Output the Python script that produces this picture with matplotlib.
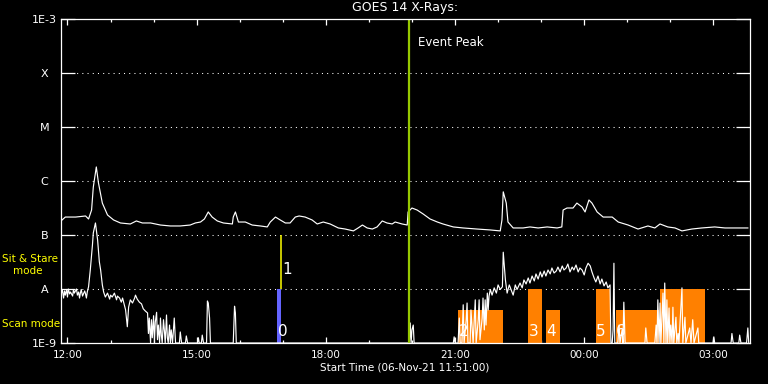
import matplotlib
matplotlib.use('Agg')
import matplotlib.pyplot as plt
from matplotlib.ticker import FixedLocator, NullLocator
from matplotlib.transforms import blended_transform_factory

# x = hours after start time 06-Nov-21 11:51:00
tick_hours = [0.15, 3.15, 6.15, 9.15, 12.15, 15.15]
tick_labels = ['12:00', '15:00', '18:00', '21:00', '00:00', '03:00']
minor_hours = [0.15 + h for h in range(16)]

flux_levels = [1e-9, 1e-8, 1e-7, 1e-6, 1e-5, 1e-4, 1e-3]
flux_labels = ['1E-9', 'A', 'B', 'C', 'M', 'X', '1E-3']
grid_levels = [1e-8, 1e-7, 1e-6, 1e-5, 1e-4]

# GOES 1-8 A channel (hours, W/m^2)
goes_long = [
    (0.00, 1.82e-7), (0.10, 2.15e-7), (0.34, 2.15e-7), (0.57, 2.25e-7), (0.64, 1.98e-7),
    (0.71, 2.9e-7), (0.75, 7.7e-7), (0.82, 1.82e-6), (0.87, 9.2e-7), (0.96, 3.9e-7),
    (1.08, 2.35e-7), (1.22, 1.9e-7), (1.38, 1.67e-7), (1.61, 1.6e-7), (1.75, 1.82e-7),
    (1.89, 1.67e-7), (2.08, 1.67e-7), (2.31, 1.53e-7), (2.54, 1.47e-7), (2.77, 1.47e-7),
    (3.00, 1.53e-7), (3.12, 1.67e-7), (3.24, 1.74e-7), (3.33, 1.98e-7), (3.42, 2.67e-7),
    (3.51, 2.15e-7), (3.63, 1.82e-7), (3.77, 1.67e-7), (3.98, 1.6e-7), (4.00, 2.15e-7),
    (4.05, 2.67e-7), (4.12, 1.74e-7), (4.28, 1.74e-7), (4.44, 1.53e-7), (4.63, 1.47e-7),
    (4.79, 1.41e-7), (4.86, 1.74e-7), (4.98, 2.15e-7), (5.09, 1.9e-7), (5.21, 1.67e-7),
    (5.32, 1.67e-7), (5.44, 2.15e-7), (5.53, 2.25e-7), (5.67, 2.15e-7), (5.83, 1.9e-7),
    (5.95, 1.6e-7), (6.09, 1.74e-7), (6.25, 1.6e-7), (6.44, 1.35e-7), (6.60, 1.29e-7),
    (6.79, 1.19e-7), (6.90, 1.35e-7), (7.00, 1.53e-7), (7.11, 1.35e-7), (7.23, 1.29e-7),
    (7.34, 1.41e-7), (7.46, 1.82e-7), (7.57, 1.67e-7), (7.69, 1.6e-7), (7.76, 1.74e-7),
    (7.92, 1.6e-7), (8.04, 1.53e-7), (8.06, 2.67e-7), (8.15, 3.16e-7), (8.27, 2.9e-7),
    (8.41, 2.45e-7), (8.57, 1.98e-7), (8.74, 1.74e-7), (8.87, 1.6e-7), (9.11, 1.41e-7),
    (9.34, 1.35e-7), (9.66, 1.29e-7), (9.97, 1.24e-7), (10.20, 1.19e-7), (10.24, 1.9e-7),
    (10.27, 6.3e-7), (10.34, 3.9e-7), (10.38, 1.74e-7), (10.50, 1.35e-7), (10.73, 1.35e-7),
    (10.89, 1.41e-7), (11.08, 1.35e-7), (11.29, 1.41e-7), (11.52, 1.35e-7), (11.63, 1.41e-7),
    (11.66, 2.9e-7), (11.75, 3.16e-7), (11.89, 3.16e-7), (11.98, 3.9e-7), (12.10, 3.3e-7),
    (12.17, 2.67e-7), (12.26, 4.45e-7), (12.33, 3.9e-7), (12.45, 2.67e-7), (12.59, 2.15e-7),
    (12.80, 2.15e-7), (12.94, 1.74e-7), (13.17, 1.53e-7), (13.40, 1.29e-7), (13.63, 1.47e-7),
    (13.79, 1.35e-7), (13.91, 1.6e-7), (14.09, 1.41e-7), (14.26, 1.35e-7), (14.42, 1.19e-7),
    (14.65, 1.29e-7), (14.88, 1.35e-7), (15.18, 1.41e-7), (15.42, 1.35e-7), (15.65, 1.35e-7),
    (15.95, 1.35e-7),
]

# GOES 0.5-4 A channel, 1e-9 = dropout at the floor
goes_short = [
    (0.01, 8.4e-9), (0.03, 9.8e-9), (0.06, 6.8e-9), (0.08, 9.2e-9), (0.10, 7.7e-9),
    (0.13, 9.8e-9), (0.15, 7.1e-9), (0.17, 1.0e-8), (0.20, 8.1e-9), (0.22, 8.8e-9),
    (0.27, 7.4e-9), (0.29, 9.8e-9), (0.31, 8.4e-9), (0.36, 1.0e-8), (0.38, 7.7e-9),
    (0.41, 8.8e-9), (0.43, 6.8e-9), (0.45, 8.4e-9), (0.47, 9.8e-9), (0.50, 7.4e-9),
    (0.55, 9.2e-9), (0.57, 8.1e-9), (0.59, 6.8e-9), (0.61, 8.8e-9), (0.64, 1.1e-8),
    (0.68, 2.25e-8), (0.73, 6.5e-8), (0.75, 1.09e-7), (0.80, 1.67e-7), (0.85, 8.1e-8),
    (0.89, 3.2e-8), (0.92, 2.25e-8), (0.96, 1.19e-8), (0.99, 8.8e-9), (1.03, 7.1e-9),
    (1.08, 8.4e-9), (1.13, 6.5e-9), (1.15, 7.7e-9), (1.19, 7.1e-9), (1.24, 8.4e-9),
    (1.29, 6.3e-9), (1.31, 7.4e-9), (1.36, 6.8e-9), (1.40, 5.7e-9), (1.43, 6.8e-9),
    (1.47, 5.1e-9), (1.50, 4.1e-9), (1.54, 2.0e-9), (1.57, 4.6e-9), (1.61, 6.3e-9),
    (1.66, 5.5e-9), (1.71, 6.8e-9), (1.73, 7.7e-9), (1.77, 6.5e-9), (1.82, 5.7e-9),
    (1.87, 5.3e-9), (1.91, 4.3e-9), (1.96, 3.9e-9), (2.01, 3.6e-9), (2.03, 1.5e-9),
    (2.05, 2.9e-9), (2.08, 1.0e-9), (2.10, 2.7e-9), (2.12, 1.25e-9), (2.15, 3.2e-9),
    (2.17, 1.0e-9), (2.19, 2.45e-9), (2.22, 3.7e-9), (2.24, 1.15e-9), (2.26, 2.15e-9),
    (2.29, 1.0e-9), (2.31, 2.9e-9), (2.33, 1.4e-9), (2.35, 1.0e-9), (2.38, 2.7e-9),
    (2.40, 1.75e-9), (2.42, 1.0e-9), (2.45, 3.3e-9), (2.47, 1.25e-9), (2.49, 1.0e-9),
    (2.52, 2.15e-9), (2.54, 1.0e-9), (2.56, 1.75e-9), (2.59, 1.0e-9), (2.63, 2.9e-9),
    (2.66, 1.0e-9), (2.75, 1.0e-9), (2.77, 1.6e-9), (2.80, 1.0e-9), (2.89, 1.0e-9),
    (2.91, 1.35e-9), (2.94, 1.0e-9), (3.17, 1.0e-9), (3.19, 1.25e-9), (3.21, 1.0e-9),
    (3.26, 1.0e-9), (3.28, 1.4e-9), (3.31, 1.0e-9), (3.38, 1.0e-9), (3.40, 6.0e-9),
    (3.42, 5.5e-9), (3.45, 2.9e-9), (3.47, 1.0e-9), (4.00, 1.0e-9), (4.03, 4.8e-9),
    (4.05, 3.6e-9), (4.07, 1.0e-9), (8.09, 1.0e-9), (8.11, 2.35e-9), (8.13, 1.0e-9),
    (8.15, 1.75e-9), (8.18, 2.15e-9), (8.20, 1.0e-9), (9.11, 1.0e-9), (9.13, 1.3e-9),
    (9.15, 1.0e-9), (9.22, 1.0e-9), (9.25, 2.9e-9), (9.27, 1.0e-9), (9.31, 1.0e-9),
    (9.34, 5.1e-9), (9.36, 1.0e-9), (9.41, 2.7e-9), (9.43, 5.5e-9), (9.45, 1.0e-9),
    (9.50, 1.0e-9), (9.52, 4.1e-9), (9.55, 1.75e-9), (9.57, 1.0e-9), (9.62, 6.3e-9),
    (9.64, 1.0e-9), (9.69, 2.7e-9), (9.71, 6.3e-9), (9.73, 1.15e-9), (9.78, 2.9e-9),
    (9.80, 6.8e-9), (9.83, 1.75e-9), (9.85, 6.3e-9), (9.87, 2.15e-9), (9.90, 8.4e-9),
    (9.92, 4.1e-9), (9.94, 7.4e-9), (9.97, 9.8e-9), (10.01, 7.7e-9), (10.06, 1.05e-8),
    (10.11, 8.4e-9), (10.15, 1.19e-8), (10.20, 9.8e-9), (10.25, 1.1e-8), (10.27, 4.8e-8),
    (10.32, 1.47e-8), (10.36, 8.4e-9), (10.41, 1.19e-8), (10.45, 9.8e-9), (10.50, 7.7e-9),
    (10.55, 1.19e-8), (10.59, 9.8e-9), (10.66, 1.29e-8), (10.71, 1.05e-8), (10.75, 1.47e-8),
    (10.80, 1.24e-8), (10.85, 1.6e-8), (10.89, 1.29e-8), (10.94, 1.74e-8), (10.99, 1.41e-8),
    (11.03, 1.9e-8), (11.08, 1.53e-8), (11.13, 2.07e-8), (11.17, 1.67e-8), (11.22, 2.15e-8),
    (11.26, 1.74e-8), (11.31, 2.25e-8), (11.36, 1.9e-8), (11.40, 2.45e-8), (11.45, 1.98e-8),
    (11.50, 2.15e-8), (11.54, 2.55e-8), (11.59, 2.07e-8), (11.64, 2.67e-8), (11.68, 2.25e-8),
    (11.73, 2.45e-8), (11.77, 2.9e-8), (11.82, 2.07e-8), (11.87, 2.55e-8), (11.91, 2.25e-8),
    (11.96, 2.78e-8), (12.01, 2.07e-8), (12.05, 2.45e-8), (12.10, 2.25e-8), (12.15, 1.82e-8),
    (12.19, 2.45e-8), (12.24, 3.0e-8), (12.29, 2.67e-8), (12.33, 2.07e-8), (12.38, 1.6e-8),
    (12.42, 1.35e-8), (12.47, 1.74e-8), (12.52, 1.24e-8), (12.56, 1.53e-8), (12.61, 1.14e-8),
    (12.66, 1.35e-8), (12.70, 1.05e-8), (12.75, 1.19e-8), (12.77, 1.0e-9), (12.80, 1.0e-9),
    (12.82, 1.75e-9), (12.84, 3.0e-8), (12.86, 1.0e-9), (12.93, 1.0e-9), (12.96, 2.15e-9),
    (12.98, 1.0e-9), (13.03, 1.75e-9), (13.05, 1.0e-9), (13.07, 5.7e-9), (13.10, 1.0e-9),
    (13.56, 1.0e-9), (13.58, 1.9e-9), (13.61, 1.0e-9), (13.79, 1.0e-9), (13.82, 2.15e-9),
    (13.84, 1.0e-9), (13.86, 6.3e-9), (13.89, 1.0e-9), (13.91, 5.5e-9), (13.93, 1.0e-9),
    (13.98, 8.4e-9), (14.00, 1.0e-9), (14.02, 1.29e-8), (14.05, 1.0e-9), (14.07, 6.3e-9),
    (14.09, 1.0e-9), (14.12, 4.45e-9), (14.14, 1.0e-9), (14.16, 2.15e-9), (14.19, 1.0e-9),
    (14.21, 4.6e-9), (14.23, 1.0e-9), (14.28, 3.0e-9), (14.30, 1.0e-9), (14.33, 1.5e-9),
    (14.35, 1.0e-9), (14.42, 1.05e-8), (14.44, 1.0e-9), (14.49, 3.0e-9), (14.51, 1.0e-9),
    (14.60, 1.9e-9), (14.63, 1.0e-9), (14.67, 2.7e-9), (14.70, 1.0e-9), (14.79, 1.9e-9),
    (14.81, 1.0e-9), (15.14, 1.0e-9), (15.16, 1.3e-9), (15.18, 1.0e-9), (15.56, 1.0e-9),
    (15.58, 1.5e-9), (15.61, 1.0e-9), (15.74, 1.0e-9), (15.76, 1.4e-9), (15.79, 1.0e-9),
    (15.92, 1.0e-9), (15.95, 1.9e-9), (15.97, 1.0e-9),
]

event_peak = 8.09

# observing blocks
blk_start = [5.02, 9.23, 10.85, 11.26, 12.42, 12.88, 13.91]
blk_end = [5.12, 10.26, 11.17, 11.59, 12.75, 13.89, 14.95]
blk_top = [1e-8, 4.1e-9, 1e-8, 4.1e-9, 1e-8, 4.1e-9, 1e-8]
blk_label = ['0', '2', '3', '4', '5', '6', '']
blk_color = ['#6464ff'] + ['#ff8000'] * 6
mark1_time = 5.11
mark1_range = [1e-8, 1e-7]

plt.rcParams['font.family'] = 'DejaVu Sans'
W, H = 768, 384
fig = plt.figure(figsize=(W / 100, H / 100), dpi=100, facecolor='black')
ax = fig.add_axes([61 / W, 1 - 343 / H, 689 / W, 324 / H], facecolor='black')

ax.set_yscale('log')
ax.set_xlim(0, 16)
ax.set_ylim(1e-9, 1e-3)

for lv in grid_levels:
    ax.axhline(lv, color='white', lw=0.75, ls=(0, (1, 4)), zorder=1)

for s, e, top, c in zip(blk_start, blk_end, blk_top, blk_color):
    ax.bar(s, top - 1e-9, width=e - s, bottom=1e-9, align='edge', color=c,
           lw=0, zorder=2)
ax.vlines(mark1_time, mark1_range[0], mark1_range[1], color='#ffff00', lw=1.1,
          zorder=2)

lt, lf = zip(*goes_long)
st, sf = zip(*goes_short)
ax.plot(lt, lf, color='white', lw=0.85, zorder=3)
ax.plot(st, sf, color='white', lw=0.85, zorder=3)

ax.axvline(event_peak, color='#96c800', lw=1.6, zorder=4)
trans = blended_transform_factory(ax.transData, ax.transAxes)
ax.text(event_peak + 0.2, 0.926, 'Event Peak', color='white', fontsize=8.5,
        va='center', ha='left', transform=trans)

for s, lab in zip(blk_start, blk_label):
    ax.text(s + 0.01, 1.6e-9, lab, color='white', fontsize=11, ha='left',
            va='center', zorder=5)
ax.text(mark1_time + 0.03, 2.25e-8, '1', color='white', fontsize=11,
        ha='left', va='center', zorder=5)

# axes styling
for sp in ax.spines.values():
    sp.set_color('white')
    sp.set_linewidth(0.9)
    sp.set_zorder(6)
ax.yaxis.set_major_locator(FixedLocator(flux_levels))
ax.yaxis.set_minor_locator(NullLocator())
ax.set_yticklabels(flux_labels)
ax.set_xticks(tick_hours)
ax.set_xticklabels(tick_labels)
ax.xaxis.set_minor_locator(FixedLocator(minor_hours))
ax.tick_params(axis='y', which='major', direction='in', length=10, width=0.9,
               left=True, right=True, colors='white', labelsize=8, pad=12)
for lab in ax.get_yticklabels():
    lab.set_ha('center')
ax.tick_params(axis='x', which='major', direction='in', length=4.3, width=0.9,
               top=True, bottom=True, colors='white', labelsize=7.5, pad=5)
ax.tick_params(axis='x', which='minor', direction='in', length=2.5, width=0.9,
               top=True, bottom=True, colors='white')

fig.text(405 / W, 1 - 8 / H, 'GOES 14 X-Rays:', color='white', fontsize=9,
         ha='center', va='center')
fig.text(405 / W, 1 - 368 / H, 'Start Time (06-Nov-21 11:51:00)', color='white',
         fontsize=7.5, ha='center', va='center')
fig.text(2 / W, 1 - 259 / H, 'Sit & Stare', color='#ffff00', fontsize=7.5,
         ha='left', va='center')
fig.text(13 / W, 1 - 271 / H, 'mode', color='#ffff00', fontsize=7.5,
         ha='left', va='center')
fig.text(2 / W, 1 - 324 / H, 'Scan mode', color='#ffff00', fontsize=7.5,
         ha='left', va='center')

fig.savefig('out.png', dpi=100, facecolor='black')
